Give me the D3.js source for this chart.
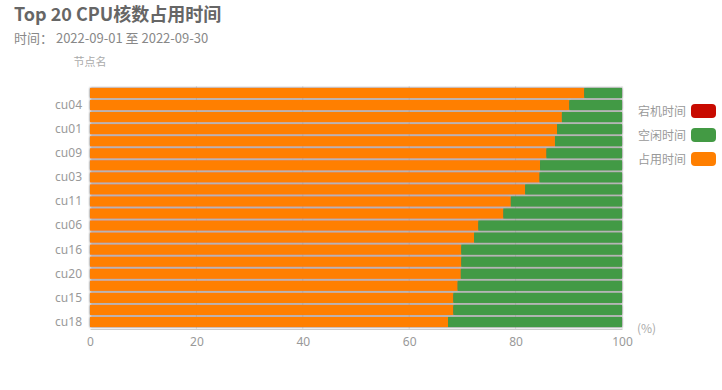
<!DOCTYPE html>
<html>
<head>
<meta charset="utf-8">
<script src="https://cdn.jsdelivr.net/npm/d3@7"></script>
<style>
  body { margin: 0; background: #fff; font-family: "Noto Sans CJK SC", "Noto Sans", sans-serif; }
</style>
</head>
<body>
<div id="container"></div>
<script>
// nodes, bottom to top (same order as the category axis)
const nodes = ['cu18', 'cu19', 'cu15', 'cu17', 'cu20', 'cu14', 'cu16', 'cu13', 'cu06', 'cu12',
    'cu11', 'cu10', 'cu03', 'cu08', 'cu09', 'cu07', 'cu01', 'cu05', 'cu04', 'cu02'];
const downTime = [0, 0, 0, 0, 0, 0, 0, 0, 0, 0, 0, 0, 0, 0, 0, 0, 0, 0, 0, 0];
const busyTime = [67.3, 68.3, 68.3, 69.1, 69.7, 69.8, 69.8, 72.2, 73.0, 77.7,
    79.1, 81.8, 84.5, 84.6, 85.8, 87.4, 87.8, 88.7, 90.1, 92.9];
const idleTime = busyTime.map(v => 100 - v);
const xTicks = [0, 20, 40, 60, 80, 100];

const seriesNames = ['宕机时间', '空闲时间', '占用时间'];
const colors = { '宕机时间': '#c80a00', '空闲时间': '#439a44', '占用时间': '#ff7f00' };

const width = 722;
const height = 390;
const margin = { left: 90, right: 100, top: 86, bottom: 61 };

const svg = d3.select('#container')
    .append('svg')
    .attr('width', width)
    .attr('height', height)
    .style('font-family', '"Noto Sans CJK SC", "Noto Sans", sans-serif');

const defs = svg.append('defs');
const shadow = defs.append('filter').attr('id', 'shadow')
    .attr('x', '-5%').attr('y', '-50%').attr('width', '110%').attr('height', '200%');
shadow.append('feDropShadow')
    .attr('dx', 0).attr('dy', 0).attr('stdDeviation', 1.3)
    .attr('flood-color', '#555').attr('flood-opacity', 1);

const x = d3.scaleLinear().domain([0, 100]).range([margin.left, width - margin.right]);
const y = d3.scaleBand().domain(nodes).range([height - margin.bottom, margin.top]).padding(0.16);

// title
svg.append('text').attr('x', 14).attr('y', 21)
    .attr('font-size', 18).attr('font-weight', 'bold').attr('fill', '#666')
    .text('Top 20 CPU核数占用时间');
svg.append('text').attr('x', 14).attr('y', 43)
    .attr('font-size', 13).attr('fill', '#888')
    .text('时间： 2022-09-01 至 2022-09-30');

// grid lines
svg.append('g')
    .selectAll('line')
    .data(xTicks.slice(1))
    .join('line')
    .attr('x1', d => x(d)).attr('x2', d => x(d))
    .attr('y1', margin.top).attr('y2', height - margin.bottom)
    .attr('stroke', '#e6e6e6');

// stacked bars
const table = nodes.map((n, i) => ({ node: n, '占用时间': busyTime[i], '空闲时间': idleTime[i], '宕机时间': downTime[i] }));
const stacked = d3.stack().keys(['占用时间', '空闲时间', '宕机时间'])(table);

const bars = svg.append('g').attr('filter', 'url(#shadow)');
stacked.forEach(layer => {
    bars.append('g')
        .attr('fill', colors[layer.key])
        .selectAll('rect')
        .data(layer)
        .join('rect')
        .attr('x', d => x(d[0]))
        .attr('y', d => y(d.data.node))
        .attr('width', d => Math.max(0, x(d[1]) - x(d[0])))
        .attr('height', y.bandwidth());
});

// x axis
const xAxis = svg.append('g')
    .attr('transform', `translate(0,${height - margin.bottom})`)
    .call(d3.axisBottom(x).tickValues(xTicks).tickSize(0).tickPadding(8));
xAxis.select('.domain').attr('stroke', '#ccc');
xAxis.selectAll('text').attr('fill', '#999').attr('font-size', 12)
    .style('font-family', '"Noto Sans", sans-serif');

svg.append('text').attr('x', 637).attr('y', 333)
    .attr('font-size', 12).attr('fill', '#aaa').text('(%)');

// y axis
const yAxis = svg.append('g')
    .attr('transform', `translate(${margin.left},0)`)
    .call(d3.axisLeft(y).tickSize(0).tickPadding(8)
        .tickFormat((d, i) => i % 2 === 0 ? d : ''));
yAxis.select('.domain').remove();
yAxis.selectAll('text').attr('fill', '#999').attr('font-size', 12)
    .style('font-family', '"Noto Sans", sans-serif');

svg.append('text').attr('x', 90).attr('y', 66).attr('text-anchor', 'middle')
    .attr('font-size', 11).attr('fill', '#aaa').text('节点名');

// legend
const legend = svg.append('g')
    .selectAll('g')
    .data(seriesNames)
    .join('g')
    .attr('transform', (d, i) => `translate(0,${104 + i * 24})`);
legend.append('rect')
    .attr('x', 691).attr('y', 0).attr('width', 25).attr('height', 14).attr('rx', 4)
    .attr('fill', d => colors[d]);
legend.append('text')
    .attr('x', 686).attr('y', 12).attr('text-anchor', 'end')
    .attr('font-size', 12).attr('fill', '#999')
    .text(d => d);
</script>
</body>
</html>
